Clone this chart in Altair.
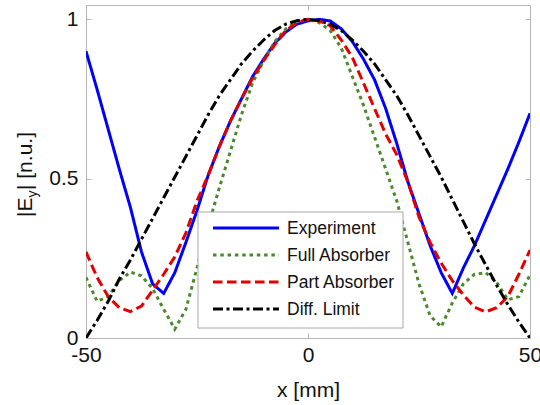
import altair as alt
import pandas as pd

# Sample positions across the aperture (mm)
x_mm = [-50, -47.5, -45, -42.5, -40, -37.5, -35, -32.5, -30, -27.5, -25, -22.5, -20,
        -17.5, -15, -12.5, -10, -7.5, -5, -2.5, 0, 2.5, 5, 7.5, 10, 12.5, 15, 17.5,
        20, 22.5, 25, 27.5, 30, 32.5, 35, 37.5, 40, 42.5, 45, 47.5, 50]

# Normalised field magnitude |E_y| for each curve
experiment = [0.90, 0.78, 0.655, 0.53, 0.41, 0.27, 0.17, 0.14, 0.205, 0.30, 0.40, 0.51, 0.60,
              0.68, 0.75, 0.82, 0.875, 0.925, 0.96, 0.985, 0.995, 1.0, 0.995, 0.97, 0.93,
              0.875, 0.81, 0.72, 0.61, 0.49, 0.39, 0.29, 0.205, 0.14, 0.22, 0.29, 0.37,
              0.45, 0.53, 0.615, 0.705]
full_absorber = [0.19, 0.115, 0.13, 0.18, 0.207, 0.195, 0.155, 0.09, 0.028, 0.09, 0.22, 0.35,
                 0.47, 0.585, 0.70, 0.80, 0.87, 0.93, 0.97, 0.993, 1.0, 0.99, 0.965, 0.91,
                 0.82, 0.73, 0.63, 0.53, 0.43, 0.30, 0.17, 0.07, 0.035, 0.11, 0.17, 0.20,
                 0.205, 0.175, 0.12, 0.13, 0.198]
part_absorber = [0.27, 0.19, 0.13, 0.095, 0.083, 0.10, 0.15, 0.20, 0.255, 0.33, 0.43, 0.51,
                 0.60, 0.68, 0.75, 0.815, 0.87, 0.92, 0.965, 0.99, 1.0, 0.995, 0.98, 0.935,
                 0.88, 0.80, 0.72, 0.64, 0.575, 0.49, 0.38, 0.30, 0.235, 0.18, 0.135, 0.097,
                 0.082, 0.095, 0.13, 0.20, 0.276]
diff_limit = [0.0, 0.055, 0.115, 0.185, 0.245, 0.31, 0.375, 0.44, 0.505, 0.57, 0.635, 0.70,
              0.76, 0.81, 0.86, 0.90, 0.935, 0.965, 0.985, 0.996, 1.0, 0.996, 0.985, 0.965,
              0.935, 0.90, 0.86, 0.81, 0.76, 0.70, 0.635, 0.57, 0.505, 0.435, 0.365, 0.295,
              0.23, 0.165, 0.105, 0.05, 0.0]

series_names = ["Experiment", "Full Absorber", "Part Absorber", "Diff. Limit"]
series_colors = ["#0000ff", "#4a8a2a", "#e50000", "#000000"]
series_dashes = [[1, 0], [3.5, 3.8], [9.5, 4.5], [10, 3.5, 3, 3.5]]

x_ticks = [-50, 0, 50]
y_ticks = [0, 0.5, 1]

rows = []
for name, vals in zip(series_names, [experiment, full_absorber, part_absorber, diff_limit]):
    for xv, yv in zip(x_mm, vals):
        rows.append({"x": xv, "y": yv, "series": name})
df = pd.DataFrame(rows)

FONT = "Liberation Sans"
TEXT = "#111111"
FRAME = "#b5b5b5"
W, H = 444, 333

x_scale = alt.Scale(domain=[-50, 50], nice=False, zero=False)
y_scale = alt.Scale(domain=[0, 1.045], nice=False, zero=False)

lines = alt.Chart(df).mark_line(strokeWidth=3, strokeCap="butt", clip=True).encode(
    x=alt.X("x:Q", scale=x_scale,
            axis=alt.Axis(values=x_ticks, title="x [mm]", orient="bottom", offset=-5,
                          tickSize=5, domain=False, grid=False, labelPadding=6,
                          labelFlush=False, labelOverlap=False, titlePadding=14,
                          labelExpr="datum.value < 0 ? '-' + abs(datum.value) : '' + datum.value")),
    y=alt.Y("y:Q", scale=y_scale,
            axis=alt.Axis(values=y_ticks, title=None, orient="left", offset=-5,
                          tickSize=5, domain=False, grid=False, labelPadding=8,
                          labelFlush=False, labelOverlap=False,
                          labelExpr="datum.value == 0 ? '0' : datum.value == 1 ? '1' : '0.5'")),
    color=alt.Color("series:N", scale=alt.Scale(domain=series_names, range=series_colors),
                    legend=None),
    strokeDash=alt.StrokeDash("series:N",
                              scale=alt.Scale(domain=series_names, range=series_dashes),
                              legend=None),
    detail="series:N",
)

# Inward tick marks on the top and right edges of the frame
frame_ticks = alt.Chart(df).mark_point(opacity=0).encode(
    x=alt.X("x:Q", scale=x_scale,
            axis=alt.Axis(values=x_ticks, title=None, orient="top", offset=-5, tickSize=5,
                          domain=False, grid=False, labels=False)),
    y=alt.Y("y:Q", scale=y_scale,
            axis=alt.Axis(values=y_ticks, title=None, orient="right", offset=-5, tickSize=5,
                          domain=False, grid=False, labels=False)),
)

# Y title with a subscript, built from three rotated text pieces
one = pd.DataFrame({"k": [0]})
title_main = alt.Chart(one).mark_text(
    angle=270, align="left", baseline="alphabetic", font=FONT, fontSize=21, color=TEXT,
    text="|E").encode(x=alt.value(-54), y=alt.value(212))
title_sub = alt.Chart(one).mark_text(
    angle=270, align="left", baseline="alphabetic", font=FONT, fontSize=14, color=TEXT,
    text="y").encode(x=alt.value(-49), y=alt.value(192.5))
title_rest = alt.Chart(one).mark_text(
    angle=270, align="left", baseline="alphabetic", font=FONT, fontSize=21, color=TEXT,
    text="| [n.u.]").encode(x=alt.value(-54), y=alt.value(185))

# Legend box with one line sample and label per series
LEG_L, LEG_R, LEG_T, LEG_B = 112, 317, 207, 323
ROW0, ROW_STEP = 223, 27
SAMPLE_L, SAMPLE_R, LABEL_X = 127, 193, 201

legend_layers = [
    alt.Chart(one).mark_rect(fill="white", stroke="#a8a8a8", strokeWidth=1).encode(
        x=alt.value(LEG_L), x2=alt.value(LEG_R), y=alt.value(LEG_T), y2=alt.value(LEG_B))
]
for i, (name, col, dash) in enumerate(zip(series_names, series_colors, series_dashes)):
    yy = ROW0 + ROW_STEP * i
    legend_layers.append(
        alt.Chart(one).mark_rule(color=col, strokeWidth=3, strokeDash=dash,
                                 strokeCap="butt").encode(
            x=alt.value(SAMPLE_L), x2=alt.value(SAMPLE_R), y=alt.value(yy)))
    legend_layers.append(
        alt.Chart(one).mark_text(align="left", baseline="middle", font=FONT, fontSize=17.5,
                                 color=TEXT, text=name).encode(
            x=alt.value(LABEL_X), y=alt.value(yy + 1)))

chart = alt.layer(lines, frame_ticks, title_main, title_sub, title_rest,
                  *legend_layers).resolve_axis(
    x="independent", y="independent"
).properties(
    width=W, height=H,
    autosize=alt.AutoSizeParams(type="none"),
    padding={"left": 86, "top": 5, "right": 10, "bottom": 67},
    background="white",
).configure_view(
    stroke=FRAME, strokeWidth=1
).configure_axis(
    labelFont=FONT, labelFontSize=21, labelColor=TEXT,
    titleFont=FONT, titleFontSize=21, titleFontWeight="normal", titleColor=TEXT,
    tickColor=FRAME, tickWidth=1,
)

chart.save("out.html", embed_options={"renderer": "svg", "actions": False})
